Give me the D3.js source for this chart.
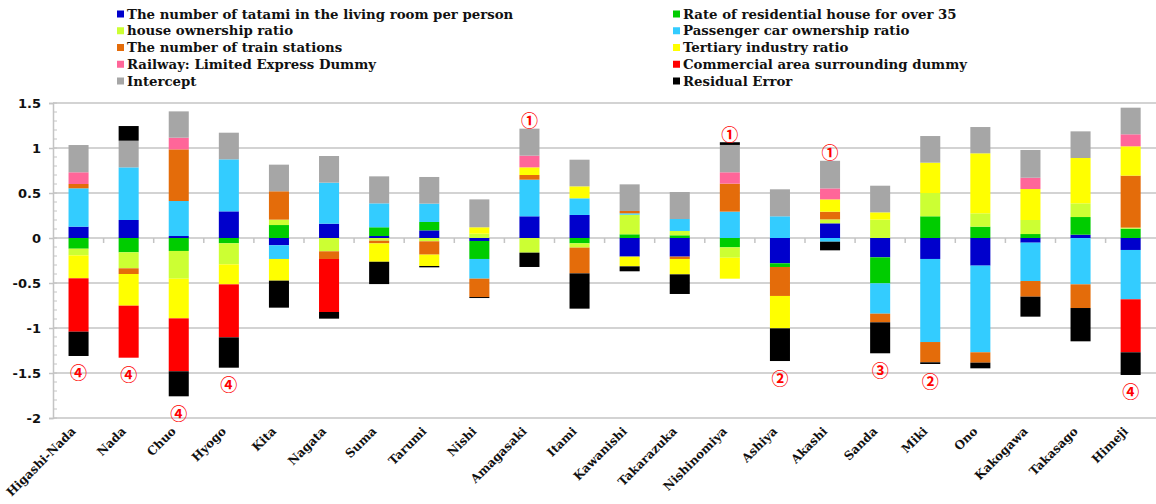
<!DOCTYPE html>
<html>
<head>
<meta charset="utf-8">
<script src="https://cdn.jsdelivr.net/npm/d3@7"></script>
<style>
  body { margin: 0; background: #fff; }
  .legend text, .xlab { font-family: "DejaVu Serif", serif; font-weight: bold; fill: #111; }
  .yaxis text { font-family: "DejaVu Sans", sans-serif; font-weight: bold; font-size: 13px; fill: #111; }
</style>
</head>
<body>
<svg id="chart" width="1156" height="504"></svg>
<script>
// districts, left to right
const categories = ["Higashi-Nada", "Nada", "Chuo", "Hyogo", "Kita", "Nagata", "Suma", "Tarumi", "Nishi",
  "Amagasaki", "Itami", "Kawanishi", "Takarazuka", "Nishinomiya", "Ashiya", "Akashi", "Sanda", "Miki",
  "Ono", "Kakogawa", "Takasago", "Himeji"];

// contribution of every factor, same order as categories
const tatami = [0.126, 0.2, 0.022, 0.296, -0.081, 0.159, 0.022, 0.085, -0.033, 0.241, 0.256, -0.207,
  -0.207, 0, -0.281, 0.163, -0.215, -0.233, -0.307, -0.052, 0.037, -0.133];
const rate35 = [-0.119, -0.159, -0.144, -0.059, 0.144, 0, 0.097, 0.093, -0.2, 0, -0.059, 0.041,
  0.03, -0.104, -0.041, 0, -0.289, 0.241, 0.126, 0.044, 0.196, 0.104];
const houseOwnership = [-0.074, -0.178, -0.308, -0.234, 0.06, -0.148, -0.03, -0.037, 0.048, -0.163, -0.048, 0.218,
  0.048, -0.115, 0, 0.044, 0.204, 0.259, 0.148, 0.156, 0.152, 0.011];
const carOwnership = [0.426, 0.585, 0.389, 0.578, -0.152, 0.456, 0.266, 0.204, -0.219, 0.407, 0.185, 0.015,
  0.133, 0.293, 0.241, -0.041, -0.337, -0.923, -0.963, -0.426, -0.515, -0.548];
const trainStations = [0.048, -0.063, 0.574, 0, 0.315, -0.085, -0.03, -0.148, -0.204, 0.052, -0.286, 0.026,
  -0.026, 0.311, -0.322, 0.085, -0.096, -0.225, -0.115, -0.174, -0.263, 0.578];
const tertiary = [-0.255, -0.352, -0.441, -0.222, -0.241, 0, -0.204, -0.126, 0.071, 0.085, 0.133, -0.108,
  -0.171, -0.233, -0.36, 0.137, 0.081, 0.337, 0.667, 0.344, 0.504, 0.326];
const limitedExpress = [0.13, 0, 0.13, 0, 0, 0, 0, 0, 0, 0.13, 0, 0,
  0, 0.126, 0, 0.122, 0, 0, 0, 0.126, 0, 0.133];
const commercial = [-0.593, -0.578, -0.588, -0.589, 0, -0.589, 0, 0, 0, 0, 0, 0,
  0, 0, 0, 0, 0, 0, 0, 0, 0, -0.589];
const intercept = [0.303, 0.296, 0.292, 0.296, 0.296, 0.296, 0.3, 0.296, 0.31, 0.3, 0.296, 0.296,
  0.3, 0.304, 0.3, 0.307, 0.296, 0.296, 0.292, 0.308, 0.296, 0.296];
const residual = [-0.27, 0.163, -0.278, -0.337, -0.3, -0.074, -0.248, -0.015, -0.011, -0.159, -0.392, -0.055,
  -0.218, 0.03, -0.363, -0.096, -0.344, -0.019, -0.063, -0.222, -0.37, -0.252];

const seriesNames = ["The number of tatami in the living room per person", "Rate of residential house for over 35",
  "house ownership ratio", "Passenger car ownership ratio", "The number of train stations", "Tertiary industry ratio",
  "Railway: Limited Express Dummy", "Commercial area surrounding dummy", "Intercept", "Residual Error"];
const seriesValues = [tatami, rate35, houseOwnership, carOwnership, trainStations, tertiary,
  limitedExpress, commercial, intercept, residual];
const seriesColors = ["#0000cc", "#00cc00", "#ccff33", "#33ccff", "#e46c0a", "#ffff00",
  "#ff6699", "#ff0000", "#a6a6a6", "#000000"];

// circled group marks
const markCategories = ["Higashi-Nada", "Nada", "Chuo", "Hyogo", "Amagasaki", "Nishinomiya", "Ashiya", "Akashi", "Sanda", "Miki", "Himeji"];
const markLabels = ["④", "④", "④", "④", "①", "①", "②", "①", "③", "②", "④"];

const yTicks = [1.5, 1, 0.5, 0, -0.5, -1, -1.5, -2];

const svg = d3.select('#chart');

let rows = categories.map(function (c, i) {
    let row = {category: c};
    seriesNames.forEach((s, k) => row[s] = seriesValues[k][i]);
    return row;
});

let stacked = d3.stack().keys(seriesNames).offset(d3.stackOffsetDiverging)(rows);

let x = d3.scaleBand().domain(categories).range([53.5, 1155.7]);
let y = d3.scaleLinear().domain([-2, 1.5]).range([418, 103]);
let color = d3.scaleOrdinal().domain(seriesNames).range(seriesColors);

// grid
svg.append('g').selectAll('line').data(yTicks).join('line')
    .attr('x1', 53).attr('x2', 1156)
    .attr('y1', d => y(d)).attr('y2', d => y(d))
    .attr('stroke', '#c4c4c4').attr('stroke-width', 1.5);

// y axis
let yAxis = svg.append('g').attr('class', 'yaxis').attr('transform', 'translate(53,0)')
    .call(d3.axisLeft(y).tickValues(yTicks).tickFormat(d => String(d)).tickSize(4).tickPadding(8));
yAxis.select('.domain').attr('stroke', '#c4c4c4').attr('stroke-width', 1.5);
yAxis.selectAll('.tick line').attr('stroke', '#c4c4c4').attr('stroke-width', 1.5);

// minor ticks every 0.1
svg.append('g').selectAll('line').data(d3.range(-20, 16).map(d => d / 10)).join('line')
    .attr('x1', 53).attr('x2', 57)
    .attr('y1', d => y(d)).attr('y2', d => y(d))
    .attr('stroke', '#c4c4c4').attr('stroke-width', 1);

// category ticks under zero line
svg.append('g').selectAll('line').data(categories.slice(1)).join('line')
    .attr('x1', d => x(d)).attr('x2', d => x(d))
    .attr('y1', y(0)).attr('y2', y(0) + 5)
    .attr('stroke', '#c4c4c4').attr('stroke-width', 1.5);

// bars
svg.append('g').selectAll('g').data(stacked).join('g')
    .attr('fill', d => color(d.key))
    .selectAll('rect').data(d => d).join('rect')
    .attr('x', d => x(d.data.category) + x.bandwidth() * 0.3)
    .attr('width', x.bandwidth() * 0.4)
    .attr('y', d => y(d[1]))
    .attr('height', d => y(d[0]) - y(d[1]));

// x labels
svg.append('g').selectAll('text').data(categories).join('text')
    .attr('class', 'xlab')
    .attr('font-size', 12)
    .attr('text-anchor', 'end')
    .attr('transform', d => 'translate(' + (x(d) + x.bandwidth() / 2 - 2) + ',432) rotate(-45)')
    .text(d => d);

// circled marks above / below the bars
let barTop = categories.map((c, i) => d3.max(stacked, s => s[i][1]));
let barBottom = categories.map((c, i) => d3.min(stacked, s => s[i][0]));
svg.append('g').selectAll('text').data(markCategories).join('text')
    .attr('font-family', '"Noto Sans CJK JP", "DejaVu Sans", sans-serif')
    .attr('font-size', 17)
    .attr('font-weight', 700)
    .attr('fill', '#ff0000')
    .attr('text-anchor', 'middle')
    .attr('dominant-baseline', 'central')
    .attr('x', d => x(d) + x.bandwidth() / 2)
    .attr('y', function (d, k) {
        let i = categories.indexOf(d);
        return markLabels[k] == '①' ? y(barTop[i]) - 9 : y(barBottom[i]) + 16;
    })
    .text((d, k) => markLabels[k]);

// legend
let legend = svg.append('g').attr('class', 'legend').selectAll('g').data(seriesNames).join('g')
    .attr('transform', (d, i) => 'translate(' + (i % 2 ? 673 : 117) + ',' + (14 + Math.floor(i / 2) * 16.75) + ')');
legend.append('rect').attr('x', 0).attr('y', -3.5).attr('width', 7).attr('height', 7).attr('fill', d => color(d));
legend.append('text').attr('x', 10).attr('dy', '0.35em').attr('font-size', 13.3).text(d => d);
</script>
</body>
</html>
